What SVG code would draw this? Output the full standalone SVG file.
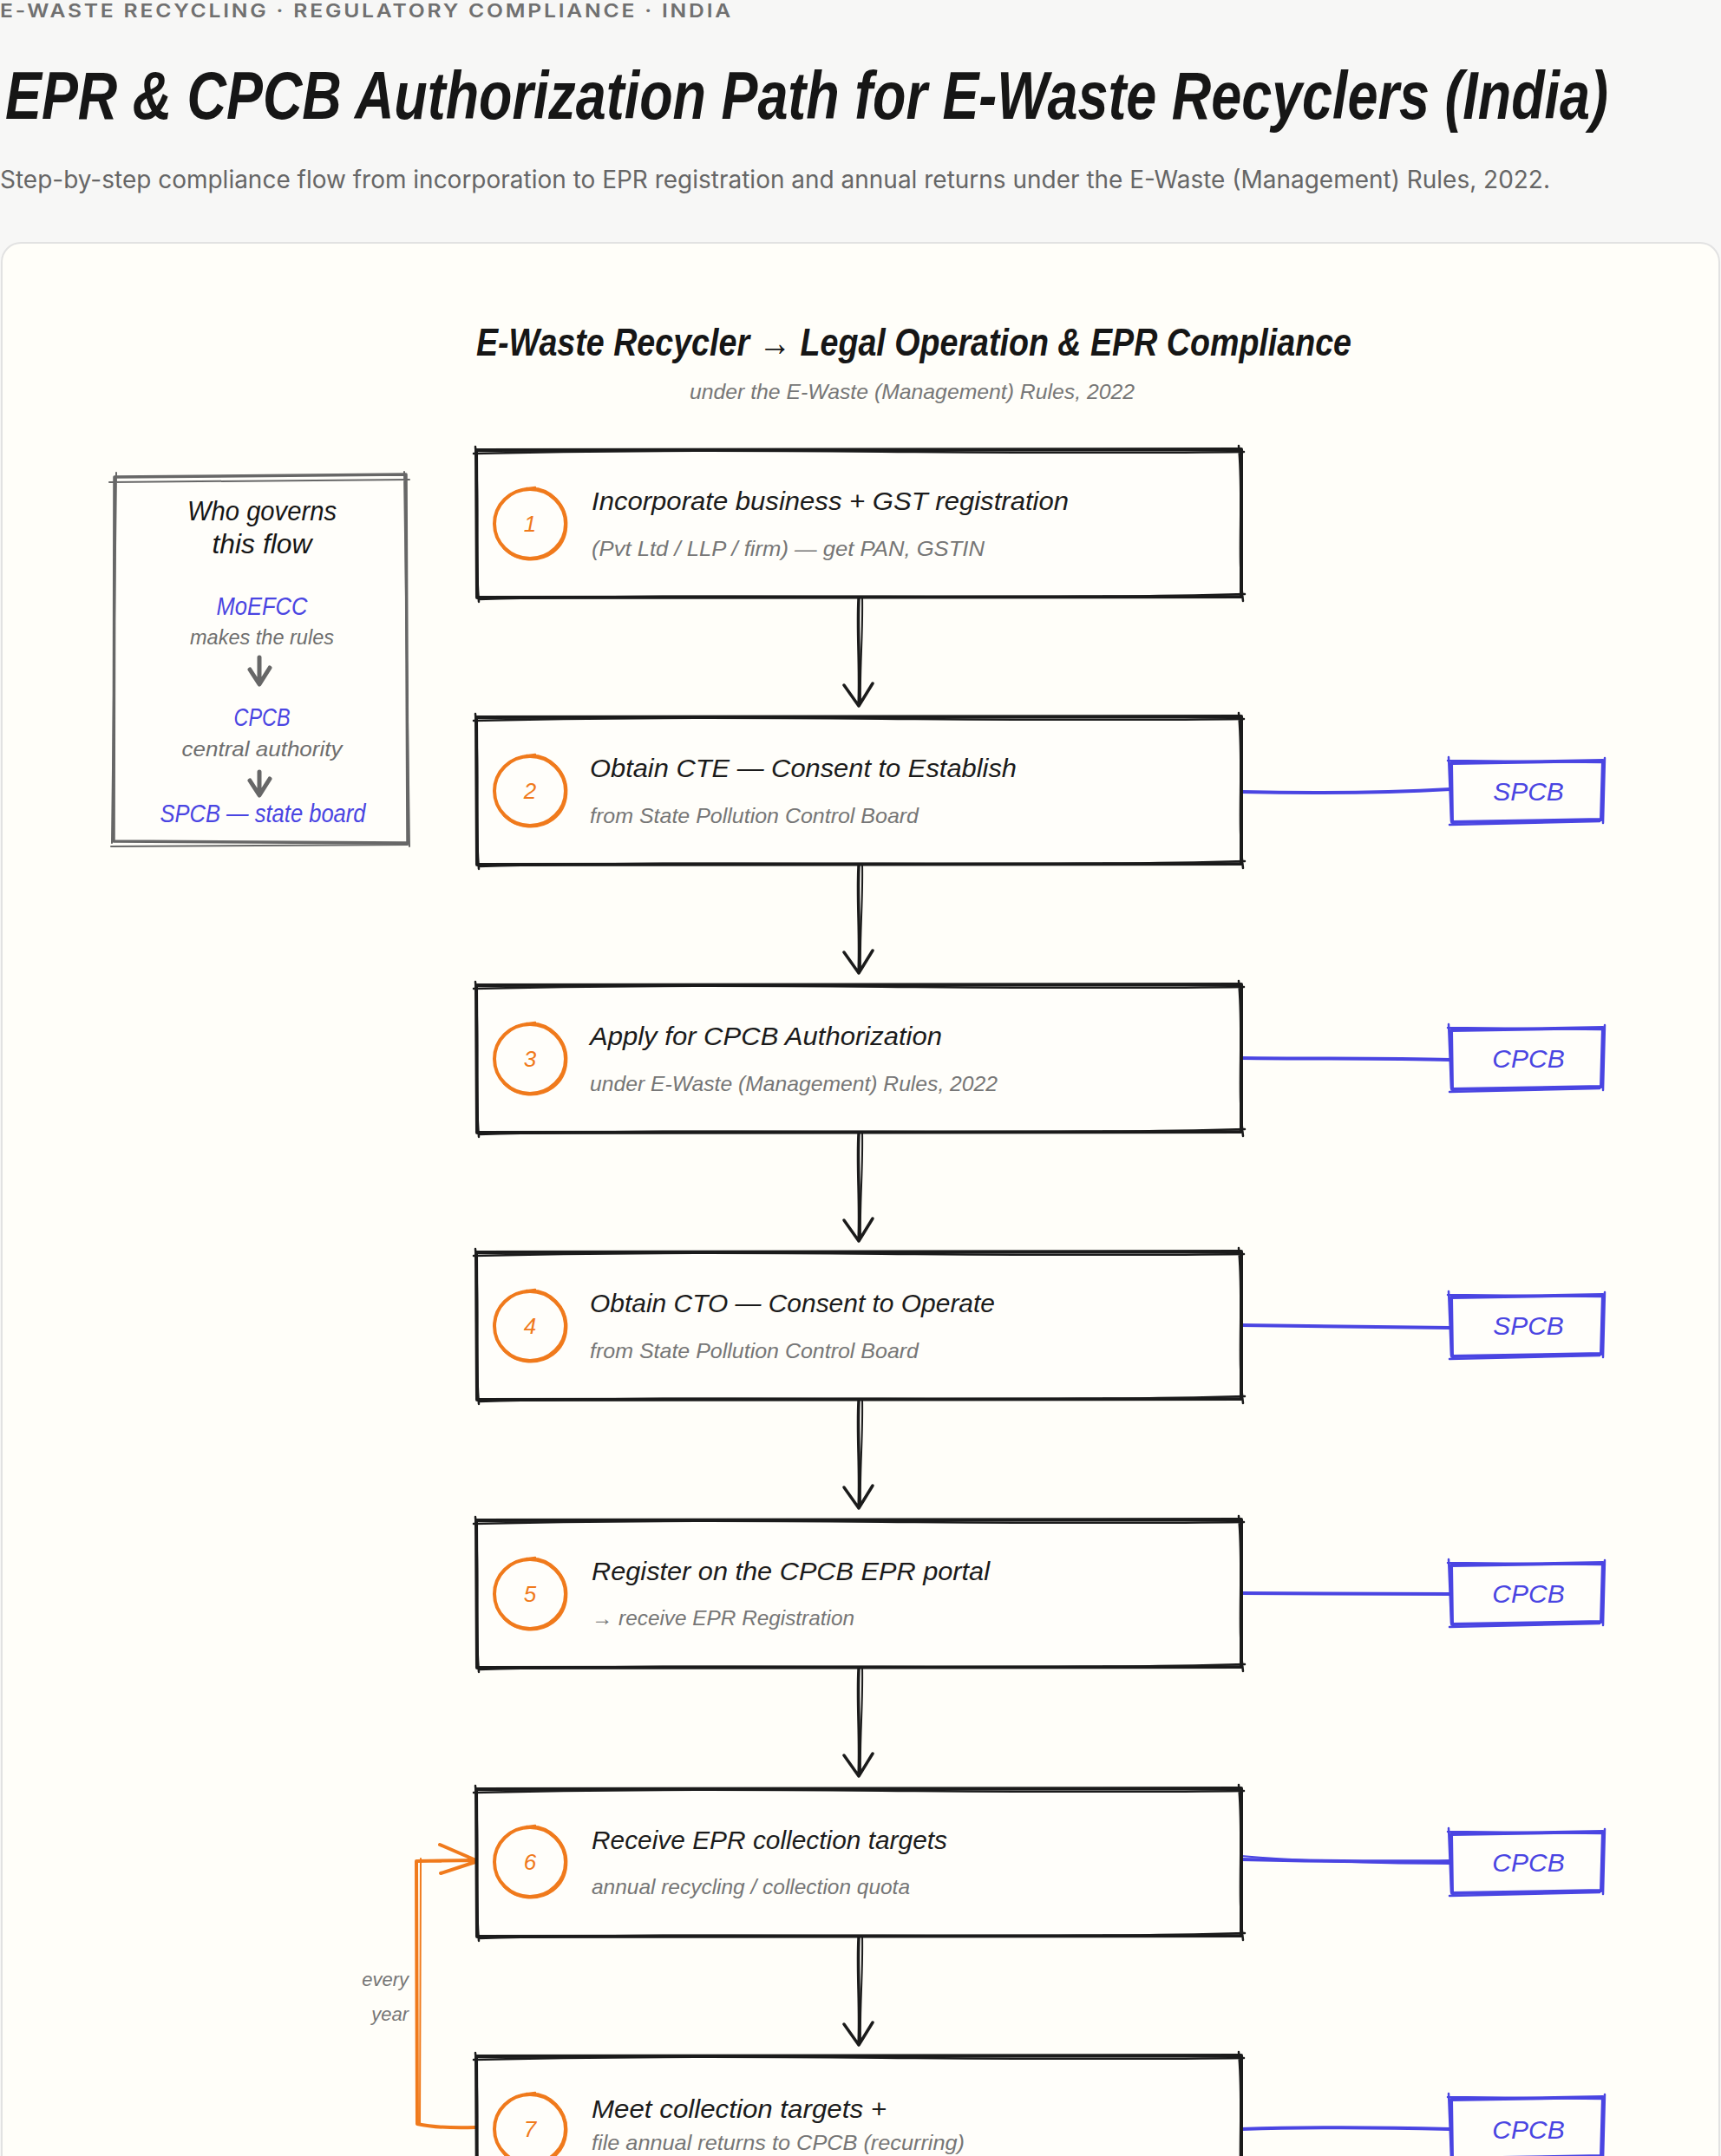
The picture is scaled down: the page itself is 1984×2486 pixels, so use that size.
<svg xmlns="http://www.w3.org/2000/svg" xmlns:xlink="http://www.w3.org/1999/xlink" width="1984" height="2486" viewBox="0 0 1984 2486">
<style>
.hand{font-family:"Liberation Sans","DejaVu Sans",sans-serif;font-style:italic}
.ttl{font-size:30px;fill:#1b1b1b}
.sub{font-size:24px;fill:#767676}
.num{font-size:26px;fill:#f07a1c;text-anchor:middle}
.auth{font-size:30px;fill:#4a45e2;text-anchor:middle}
.blk{fill:none;stroke:#1b1b1b;stroke-linecap:round;stroke-linejoin:round}
.org{fill:none;stroke:#f07a1c;stroke-linecap:round;stroke-linejoin:round}
.blu{fill:none;stroke:#4a45e2;stroke-linecap:round;stroke-linejoin:round}
.gry{fill:none;stroke:#676767;stroke-linecap:round;stroke-linejoin:round}
.mid{text-anchor:middle}
</style>
<defs>
<g id="stepBox">
<rect x="0" y="0" width="882" height="170" fill="#fffefa"/>
<path class="blk" stroke-width="4" d="M0,1 L882,0 L882,170 L1,171 Z"/>
<path class="blk" stroke-width="2.5" d="M-3,5 C300,-3 600,7 885,3 M879,-4 C885,60 877,120 884,175 M886,167 C600,175 300,165 3,173 M3,176 C-2,120 4,60 -1,-3"/>
</g>
<g id="numCircle">
<ellipse cx="0" cy="0" rx="41" ry="40" class="org" stroke-width="4"/>
<path class="org" stroke-width="2.5" d="M-4,-41 C24,-44 44,-20 42,4 C40,30 18,43 -4,41 C-30,38 -44,16 -40,-8 C-36,-30 -18,-40 6,-42"/>
</g>
<g id="authBox">
<rect x="0" y="0" width="176" height="70" fill="#fffefa"/>
<path class="blu" stroke-width="4" d="M1,3 L176,0 L174,68 L2,71 Z"/>
<path class="blu" stroke-width="2.5" d="M-3,0 L178,2 M178,-3 L176,72 M-1,74 L172,70 M-2,-4 L1,70"/>
</g>
<g id="arrowDown">
<path class="blk" stroke-width="3.5" d="M0,0 C-2,40 2,80 0,124 M-17,100 L0,124 L16,98"/>
<path class="blk" stroke-width="2" d="M4,-2 C5,40 1,80 2,120"/>
</g>
</defs>

<rect x="0" y="0" width="1984" height="2486" fill="#f7f7f6"/>

<g id="header">
<text x="0" y="20" font-family="Inter,'Liberation Sans',sans-serif" font-size="22" font-weight="600" fill="#707070" letter-spacing="2.5" textLength="845" lengthAdjust="spacingAndGlyphs">E-WASTE RECYCLING · REGULATORY COMPLIANCE · INDIA</text>
<text transform="translate(6,137) scale(1,1.25)" x="0" y="0" class="hand" font-size="62" font-weight="700" fill="#161616" textLength="1848" lengthAdjust="spacingAndGlyphs">EPR &amp; CPCB Authorization Path for E-Waste Recyclers (India)</text>
<text x="0" y="217" font-family="Inter,'Liberation Sans',sans-serif" font-size="28" fill="#666666" textLength="1787" lengthAdjust="spacingAndGlyphs">Step-by-step compliance flow from incorporation to EPR registration and annual returns under the E-Waste (Management) Rules, 2022.</text>
</g>

<rect id="card" x="2" y="280" width="1980" height="2240" rx="22" fill="#fffef9" stroke="#e2e2e2" stroke-width="2"/>

<g id="diagram-title">
<text x="549" y="410" class="hand" font-size="44" font-weight="700" fill="#161616" textLength="1009" lengthAdjust="spacingAndGlyphs">E-Waste Recycler → Legal Operation &amp; EPR Compliance</text>
<text x="795" y="460" class="hand" font-size="24" fill="#777777" textLength="513" lengthAdjust="spacingAndGlyphs">under the E-Waste (Management) Rules, 2022</text>
</g>

<g id="connectors">
<use xlink:href="#arrowDown" href="#arrowDown" x="990" y="690"/>
<use xlink:href="#arrowDown" href="#arrowDown" x="990" y="998"/>
<use xlink:href="#arrowDown" href="#arrowDown" x="990" y="1307"/>
<use xlink:href="#arrowDown" href="#arrowDown" x="990" y="1615"/>
<use xlink:href="#arrowDown" href="#arrowDown" x="990" y="1924"/>
<use xlink:href="#arrowDown" href="#arrowDown" x="990" y="2234"/>
<path class="blu" stroke-width="4" d="M1431,913 C1520,915 1600,914 1672,910"/>
<path class="blu" stroke-width="4" d="M1431,1220 C1520,1221 1600,1220 1672,1222"/>
<path class="blu" stroke-width="4" d="M1431,1528 C1520,1529 1600,1530 1672,1531"/>
<path class="blu" stroke-width="4" d="M1431,1837 C1520,1838 1600,1837 1672,1838"/>
<path class="blu" stroke-width="4" d="M1431,2144 C1520,2146 1600,2147 1672,2146"/>
<path class="blu" stroke-width="2" d="M1431,2140 C1500,2146 1600,2149 1672,2149"/>
<path class="blu" stroke-width="4" d="M1431,2455 C1520,2452 1600,2453 1672,2455"/>
<path class="org" stroke-width="4" d="M548,2453 C520,2454 495,2452 481,2449 L480,2146 L550,2145 M507,2127 L551,2146 L508,2160"/>
<path class="org" stroke-width="2" d="M484,2450 L485,2143"/>
<text x="471" y="2290" class="hand" font-size="22" fill="#767676" text-anchor="end">every</text>
<text x="471" y="2330" class="hand" font-size="22" fill="#767676" text-anchor="end">year</text>
</g>

<g id="governance">
<rect x="130" y="547" width="340" height="426" fill="#fffefa"/>
<path class="gry" stroke-width="3.5" d="M132,550 L468,547 L470,972 L131,970 Z"/>
<path class="gry" stroke-width="2" d="M126,556 L472,553 M466,544 L472,976 M128,976 L470,974 M134,545 L129,972"/>
<text x="302" y="600" class="hand mid" font-size="32" fill="#161616" textLength="172" lengthAdjust="spacingAndGlyphs">Who governs</text>
<text x="302" y="638" class="hand mid" font-size="32" fill="#161616" textLength="115" lengthAdjust="spacingAndGlyphs">this flow</text>
<text x="302" y="709" class="hand mid" font-size="30" fill="#4a45e2" textLength="105" lengthAdjust="spacingAndGlyphs">MoEFCC</text>
<text x="302" y="743" class="hand mid" font-size="24" fill="#6e6e6e" textLength="166" lengthAdjust="spacingAndGlyphs">makes the rules</text>
<path class="gry" stroke-width="5" d="M299,758 L299,788 M288,772 L299,789 L311,770"/>
<text x="302" y="837" class="hand mid" font-size="30" fill="#4a45e2" textLength="65" lengthAdjust="spacingAndGlyphs">CPCB</text>
<text x="302" y="872" class="hand mid" font-size="24" fill="#6e6e6e" textLength="185" lengthAdjust="spacingAndGlyphs">central authority</text>
<path class="gry" stroke-width="5" d="M299,890 L299,916 M288,900 L299,917 L311,898"/>
<text x="303" y="948" class="hand mid" font-size="30" fill="#4a45e2" textLength="237" lengthAdjust="spacingAndGlyphs">SPCB — state board</text>
</g>

<g id="step1" transform="translate(549,518)">
<use xlink:href="#stepBox" href="#stepBox"/>
<use xlink:href="#numCircle" href="#numCircle" x="62" y="86"/>
<text x="62" y="95" class="hand num">1</text>
<text x="133" y="70" class="hand ttl" textLength="550" lengthAdjust="spacingAndGlyphs">Incorporate business + GST registration</text>
<text x="133" y="123" class="hand sub" textLength="453" lengthAdjust="spacingAndGlyphs">(Pvt Ltd / LLP / firm) — get PAN, GSTIN</text>
</g>

<g id="step2" transform="translate(549,826)">
<use xlink:href="#stepBox" href="#stepBox"/>
<use xlink:href="#numCircle" href="#numCircle" x="62" y="86"/>
<text x="62" y="95" class="hand num">2</text>
<text x="131" y="70" class="hand ttl" textLength="492" lengthAdjust="spacingAndGlyphs">Obtain CTE — Consent to Establish</text>
<text x="131" y="123" class="hand sub" textLength="379" lengthAdjust="spacingAndGlyphs">from State Pollution Control Board</text>
</g>

<g id="step3" transform="translate(549,1135)">
<use xlink:href="#stepBox" href="#stepBox"/>
<use xlink:href="#numCircle" href="#numCircle" x="62" y="86"/>
<text x="62" y="95" class="hand num">3</text>
<text x="131" y="70" class="hand ttl" textLength="406" lengthAdjust="spacingAndGlyphs">Apply for CPCB Authorization</text>
<text x="131" y="123" class="hand sub" textLength="470" lengthAdjust="spacingAndGlyphs">under E-Waste (Management) Rules, 2022</text>
</g>

<g id="step4" transform="translate(549,1443)">
<use xlink:href="#stepBox" href="#stepBox"/>
<use xlink:href="#numCircle" href="#numCircle" x="62" y="86"/>
<text x="62" y="95" class="hand num">4</text>
<text x="131" y="70" class="hand ttl" textLength="467" lengthAdjust="spacingAndGlyphs">Obtain CTO — Consent to Operate</text>
<text x="131" y="123" class="hand sub" textLength="379" lengthAdjust="spacingAndGlyphs">from State Pollution Control Board</text>
</g>

<g id="step5" transform="translate(549,1752)">
<use xlink:href="#stepBox" href="#stepBox"/>
<use xlink:href="#numCircle" href="#numCircle" x="62" y="86"/>
<text x="62" y="95" class="hand num">5</text>
<text x="133" y="70" class="hand ttl" textLength="459" lengthAdjust="spacingAndGlyphs">Register on the CPCB EPR portal</text>
<text x="133" y="122" class="hand sub" textLength="303" lengthAdjust="spacingAndGlyphs">→ receive EPR Registration</text>
</g>

<g id="step6" transform="translate(549,2062)">
<use xlink:href="#stepBox" href="#stepBox"/>
<use xlink:href="#numCircle" href="#numCircle" x="62" y="85"/>
<text x="62" y="94" class="hand num">6</text>
<text x="133" y="70" class="hand ttl" textLength="410" lengthAdjust="spacingAndGlyphs">Receive EPR collection targets</text>
<text x="133" y="122" class="hand sub" textLength="367" lengthAdjust="spacingAndGlyphs">annual recycling / collection quota</text>
</g>

<g id="step7" transform="translate(549,2370)">
<use xlink:href="#stepBox" href="#stepBox"/>
<use xlink:href="#numCircle" href="#numCircle" x="62" y="85"/>
<text x="62" y="94" class="hand num">7</text>
<text x="133" y="72" class="hand ttl" textLength="340" lengthAdjust="spacingAndGlyphs">Meet collection targets +</text>
<text x="133" y="109" class="hand sub" textLength="430" lengthAdjust="spacingAndGlyphs">file annual returns to CPCB (recurring)</text>
</g>

<g id="auth2" transform="translate(1672,877)"><use xlink:href="#authBox" href="#authBox"/><text x="90" y="46" class="hand auth">SPCB</text></g>
<g id="auth3" transform="translate(1672,1185)"><use xlink:href="#authBox" href="#authBox"/><text x="90" y="46" class="hand auth">CPCB</text></g>
<g id="auth4" transform="translate(1672,1493)"><use xlink:href="#authBox" href="#authBox"/><text x="90" y="46" class="hand auth">SPCB</text></g>
<g id="auth5" transform="translate(1672,1802)"><use xlink:href="#authBox" href="#authBox"/><text x="90" y="46" class="hand auth">CPCB</text></g>
<g id="auth6" transform="translate(1672,2112)"><use xlink:href="#authBox" href="#authBox"/><text x="90" y="46" class="hand auth">CPCB</text></g>
<g id="auth7" transform="translate(1672,2418)"><use xlink:href="#authBox" href="#authBox"/><text x="90" y="48" class="hand auth">CPCB</text></g>
</svg>
